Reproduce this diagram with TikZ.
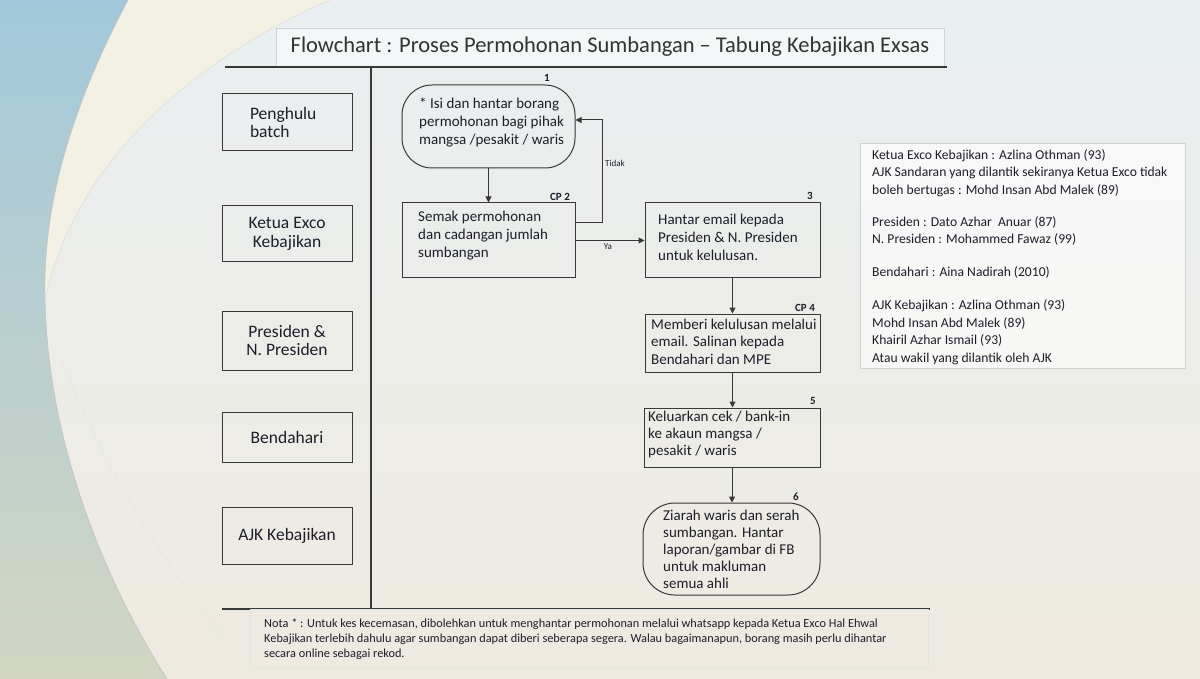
\documentclass[tikz,border=0pt]{standalone}
\usepackage{fontspec}
\setmainfont{Carlito}
\usetikzlibrary{arrows.meta}
\definecolor{ink}{HTML}{1E1E2A}
\definecolor{linec}{HTML}{383838}
\definecolor{bgtop}{HTML}{EAEFF1}
\definecolor{bgbot}{HTML}{EEEAE0}
\definecolor{blueL}{HTML}{A2C8DB}
\definecolor{blueA}{HTML}{76AAC6}
\definecolor{greenA}{HTML}{D2D6C2}
\definecolor{bandc}{HTML}{F3F1E3}
\definecolor{faint}{HTML}{CDD3D6}
\begin{document}
\begin{tikzpicture}[x=1pt,y=-1pt,
  sep/.style={draw=linec, line width=1.2pt},
  lane/.style={draw=linec, line width=1pt, minimum width=130pt, inner sep=2pt,
    font=\fontsize{17.5}{18.5}\selectfont, text=ink, align=center},
  fshape/.style={draw=linec, line width=1pt, inner sep=0pt},
  ftext/.style={font=\fontsize{15}{17.5}\selectfont, text=ink, align=left, inner sep=0pt, anchor=base west},
  steplbl/.style={font=\bfseries\fontsize{11}{12}\selectfont, text=ink, inner sep=0pt},
  small/.style={font=\fontsize{9}{10}\selectfont, text=ink, inner sep=0pt},
  flow/.style={draw=linec, line width=1pt, -{Triangle[length=6pt,width=6pt]}},
  infobox/.style={draw=faint, line width=0.6pt, fill=white, fill opacity=0.6, inner sep=0pt},
  infotext/.style={font=\fontsize{13.6}{17.5}\selectfont, text=ink, align=left, inner sep=0pt, anchor=base west},
  notetext/.style={font=\fontsize{12.3}{15}\selectfont, text=ink, align=left, inner sep=0pt, anchor=base west},
  titlebox/.style={draw=faint, line width=0.8pt, fill=white, fill opacity=0.5, text opacity=1,
    minimum width=668pt, minimum height=38pt, font=\fontsize{22.5}{26}\selectfont, text=black!80}
]
\useasboundingbox (0,0) rectangle (1200,679);
% background
\shade[top color=bgtop, bottom color=bgbot] (0,0) rectangle (1200,679);
\fill[bandc] (128,0) .. controls (75,100) and (42,200) .. (45,300) .. controls (70,180) and (170,70) .. (330,0) -- cycle;
\shade[top color=blueL, middle color=blueA, bottom color=greenA] (0,0) -- (128,0) .. controls (75,100) and (42,200) .. (45,300) .. controls (48,450) and (110,590) .. (167,679) -- (0,679) -- cycle;
\draw[gray!45, line width=0.8pt] (128,0) .. controls (75,100) and (42,200) .. (45,300) .. controls (48,450) and (110,590) .. (167,679);
\draw[gray!25, line width=0.6pt] (330,0) .. controls (170,70) and (70,180) .. (45,300);
\draw[gray!20, line width=0.6pt] (62,360) .. controls (100,460) and (160,560) .. (225,640);

% title
\node[titlebox] (tb) at (610,47) {Flowchart : Proses Permohonan Sumbangan – Tabung Kebajikan Exsas};

% separators
\coordinate (tl) at (225,67); \coordinate (tr) at (947,67);
\coordinate (vt) at (371,67); \coordinate (vb) at (371,609);
\coordinate (bl) at (222,609); \coordinate (br) at (930,609);
\draw[sep] (tl) -- (tr);
\draw[sep] (vt) -- (vb);
\draw[sep] (bl) -- (br);

% lanes
\node[lane, minimum height=57pt, text width=74pt, align=left] (pb) at (287,122.5) {Penghulu\\batch};
\node[lane, minimum height=56pt] (ke) at (287,234) {Ketua Exco\\Kebajikan};
\node[lane, minimum height=59pt] (pr) at (287,340.5) {Presiden \&\\N. Presiden};
\node[lane, minimum height=50pt] (be) at (287,437) {Bendahari};
\node[lane, minimum height=57pt] (ajk) at (287,535.5) {AJK Kebajikan};

% flow shapes
\node[fshape, rounded corners=30pt, minimum width=173pt, minimum height=83pt] (b1) at (488.5,126.5) {};
\node[fshape, minimum width=173pt, minimum height=75pt] (b2) at (488.5,240.5) {};
\node[fshape, minimum width=175pt, minimum height=75pt] (b3) at (732.5,240.5) {};
\node[fshape, minimum width=175pt, minimum height=58pt] (b4) at (732.5,343) {};
\node[fshape, minimum width=176pt, minimum height=59pt] (b5) at (732,437.5) {};
\node[fshape, rounded corners=32pt, minimum width=177pt, minimum height=92pt] (b6) at (731.5,549) {};

% texts (anchored at the baseline of the last line)
\node[ftext, font=\fontsize{15}{18}\selectfont] (t1) at (419,145) {* Isi dan hantar borang\\permohonan bagi pihak\\mangsa /pesakit / waris};
\node[ftext, font=\fontsize{15}{18}\selectfont] (t2) at (418,258) {Semak permohonan\\dan cadangan jumlah\\sumbangan};
\node[ftext, font=\fontsize{15}{18}\selectfont] (t3) at (658,261) {Hantar email kepada\\Presiden \& N. Presiden\\untuk kelulusan.};
\node[ftext] (t4) at (651,364) {Memberi kelulusan melalui\\email. Salinan kepada\\Bendahari dan MPE};
\node[ftext, font=\fontsize{15}{17}\selectfont] (t5) at (648,455) {Keluarkan cek / bank-in\\ke akaun mangsa /\\pesakit / waris};
\node[ftext, font=\fontsize{15}{17}\selectfont] (t6) at (663,588) {Ziarah waris dan serah\\sumbangan. Hantar\\laporan/gambar di FB\\untuk makluman\\semua ahli};

% step labels
\node[steplbl] (n1) at (547,78) {1};
\node[steplbl] (n2) at (560,197) {CP 2};
\node[steplbl] (n3) at (810,196) {3};
\node[steplbl] (n4) at (805,308) {CP 4};
\node[steplbl] (n5) at (813,401) {5};
\node[steplbl] (n6) at (796,497) {6};

% connectors
\coordinate (tk) at (602,120);
\draw[flow] (b1.south) -- (b2.north);
\draw[flow] ([yshift=17.5pt]b2.east) -| (tk) -- (tk -| b1.east);
\draw[flow] (b2.east) -- (b3.west);
\draw[flow] (b3.south) -- (b4.north);
\draw[flow] (b4.south) -- (b4.south |- b5.north);
\draw[flow] (b5.south) -- (b5.south |- b6.north);
\node[small] (tidak) at (615,163) {Tidak};
\node[small] (ya) at (608,247) {Ya};

% info box
\node[infobox, anchor=north west, minimum width=325pt, minimum height=225pt] (info) at (860,143) {};
\node[infotext] (it) at (872,362) {Ketua Exco Kebajikan : Azlina Othman (93)\\
AJK Sandaran yang dilantik sekiranya Ketua Exco tidak\\
boleh bertugas : Mohd Insan Abd Malek (89)\\[14.5pt]
Presiden : Dato Azhar\ \ Anuar (87)\\
N. Presiden : Mohammed Fawaz (99)\\[15pt]
Bendahari : Aina Nadirah (2010)\\[16pt]
AJK Kebajikan : Azlina Othman (93)\\
Mohd Insan Abd Malek (89)\\
Khairil Azhar Ismail (93)\\
Atau wakil yang dilantik oleh AJK};

% note
\node[draw=faint!60, line width=0.5pt, minimum width=678pt, minimum height=58pt, inner sep=0pt] (nb) at (589,638) {};
\node[notetext] (nt) at (264,657) {Nota * : Untuk kes kecemasan, dibolehkan untuk menghantar permohonan melalui whatsapp kepada Ketua Exco Hal Ehwal\\
Kebajikan terlebih dahulu agar sumbangan dapat diberi seberapa segera. Walau bagaimanapun, borang masih perlu dihantar\\
secara online sebagai rekod.};
\end{tikzpicture}
\end{document}
